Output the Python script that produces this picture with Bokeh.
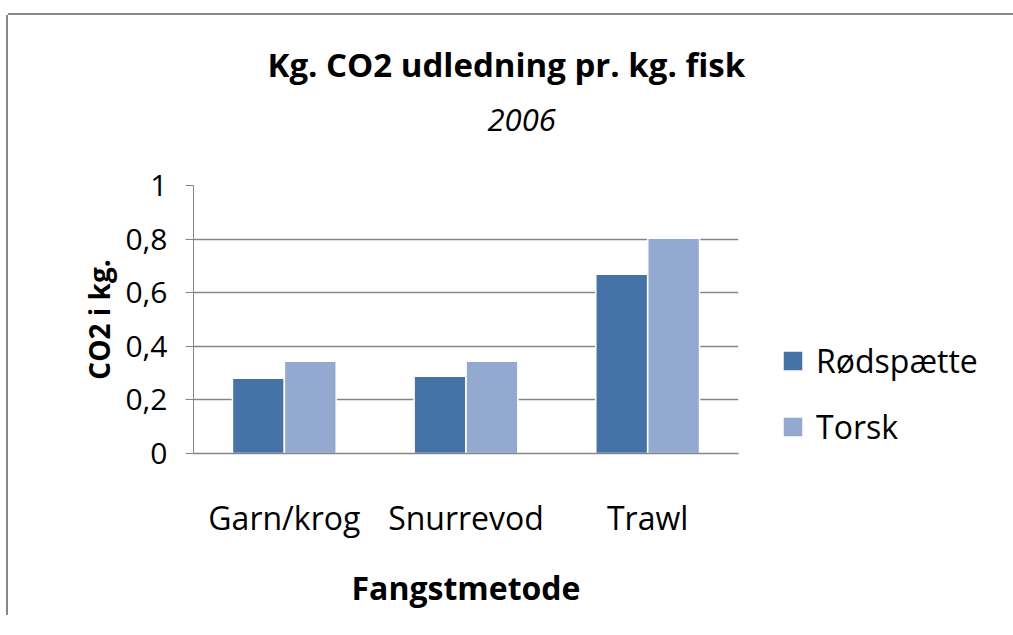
from bokeh.plotting import figure
from bokeh.models import (FactorRange, Range1d, FixedTicker, Legend, LegendItem,
                          Title, ColumnDataSource)
from bokeh.transform import dodge
from bokeh.embed import file_html
from bokeh.resources import INLINE

# ---- data ----
categories = ["Garn/krog", "Snurrevod", "Trawl"]
series_names = ["Rødspætte", "Torsk"]
roedspaette = [0.281, 0.288, 0.669]
torsk = [0.344, 0.344, 0.803]
yticks = [0, 0.2, 0.4, 0.6, 0.8, 1]
ytick_labels = ["0", "0,2", "0,4", "0,6", "0,8", "1"]
title_text = "Kg. CO2 udledning pr. kg. fisk"
subtitle_text = "2006"
x_label = "Fangstmetode"
y_label = "CO2 i kg."

colors = ["#4572A7", "#93A9D0"]
FONT = "Open Sans"

source = ColumnDataSource(dict(cat=categories, r=roedspaette, t=torsk))

p = figure(frame_width=545, frame_height=268, x_range=FactorRange(*categories),
           y_range=Range1d(0, 1), output_backend="svg", toolbar_location=None,
           min_border_left=185, min_border_right=267, min_border_top=170,
           min_border_bottom=162)
p.outline_line_color = None
p.background_fill_color = "white"
p.border_fill_color = "white"
p.styles = {"margin-left": "8px", "margin-top": "15px",
            "box-shadow": "-2px 0px 0px 0px #878787, 0px -2px 0px 0px #878787"}

bw = 0.285
r1 = p.vbar(x=dodge("cat", -0.143, range=p.x_range), top="r", width=bw, source=source,
            fill_color=colors[0], line_color="white", line_width=1.5)
r2 = p.vbar(x=dodge("cat", 0.143, range=p.x_range), top="t", width=bw, source=source,
            fill_color=colors[1], line_color="white", line_width=1.5)

# y axis
p.yaxis.ticker = FixedTicker(ticks=yticks)
p.yaxis.major_label_overrides = {v: s for v, s in zip(yticks, ytick_labels)}
p.yaxis.major_label_text_font = FONT
p.yaxis.major_label_text_font_size = "30px"
p.yaxis.major_label_text_color = "black"
p.yaxis.major_tick_out = 8
p.yaxis.major_tick_in = 0
p.yaxis.minor_tick_line_color = None
p.yaxis.major_tick_line_color = "#868686"
p.yaxis.axis_line_color = "#868686"
p.yaxis.major_label_standoff = 18
p.yaxis.axis_label = y_label
p.yaxis.axis_label_text_font = FONT
p.yaxis.axis_label_text_font_style = "bold"
p.yaxis.axis_label_text_font_size = "28px"
p.yaxis.axis_label_text_color = "black"
p.yaxis.axis_label_standoff = 4

# x axis
p.xaxis.major_label_text_font = FONT
p.xaxis.major_label_text_font_size = "32px"
p.xaxis.major_label_text_color = "black"
p.xaxis.major_tick_line_color = None
p.xaxis.axis_line_color = "#868686"
p.xaxis.axis_line_width = 1.5
p.xaxis.major_label_standoff = 36
p.xaxis.axis_label = x_label
p.xaxis.axis_label_text_font = FONT
p.xaxis.axis_label_text_font_style = "bold"
p.xaxis.axis_label_text_font_size = "32px"
p.xaxis.axis_label_text_color = "black"
p.xaxis.axis_label_standoff = 24

p.xgrid.grid_line_color = None
p.ygrid.grid_line_color = "#868686"
p.ygrid.grid_line_width = 1.5

# titles: spacer (closest to frame), subtitle, title
p.add_layout(Title(text=" ", text_font=FONT, text_font_size="28px", standoff=0), "above")
p.add_layout(Title(text=subtitle_text, align="left", offset=294, standoff=30,
                   text_font=FONT, text_font_style="italic", text_font_size="31px",
                   text_color="black"), "above")
p.add_layout(Title(text=title_text, align="left", offset=74,
                   text_font=FONT, text_font_style="bold", text_font_size="33px",
                   text_color="black"), "above")

# legend
legend = Legend(items=[LegendItem(label=series_names[0], renderers=[r1]),
                       LegendItem(label=series_names[1], renderers=[r2])],
                location=(42, 5), orientation="vertical",
                label_text_font=FONT, label_text_font_size="32px",
                label_text_color="black",
                glyph_width=25, glyph_height=25, label_height=30,
                spacing=23, padding=0, margin=0, label_standoff=11,
                border_line_color=None, background_fill_alpha=0)
p.add_layout(legend, "right")

open("out.html", "w").write(file_html(p, INLINE))
